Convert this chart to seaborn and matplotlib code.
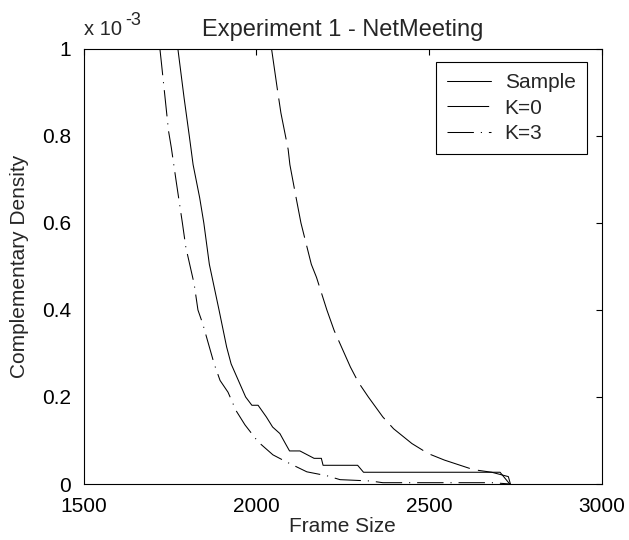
"""
Complementary density of frame sizes (Experiment 1 - NetMeeting):
empirical sample vs. two model fits, drawn in the old MATLAB look.
"""

import matplotlib

matplotlib.use("Agg")
import matplotlib.pyplot as plt
import pandas as pd
import seaborn as sns

# ==============================================================================
# DATA (y values are in units of 1e-3)
# ==============================================================================
sample_x = [1773, 1791, 1806, 1817, 1836, 1848, 1864, 1892, 1914, 1927, 1948,
            1969, 1987, 2005, 2029, 2047, 2068, 2084, 2096, 2126, 2167, 2188,
            2193, 2293, 2310, 2705, 2733]
sample_y = [1.0, 0.887, 0.8, 0.734, 0.658, 0.6, 0.505, 0.4, 0.315, 0.276, 0.238,
            0.2, 0.181, 0.181, 0.154, 0.131, 0.116, 0.093, 0.076, 0.076, 0.059,
            0.059, 0.043, 0.043, 0.027, 0.027, 0.0]

k0_x = [2044, 2061, 2071, 2092, 2097, 2115, 2129, 2159, 2174, 2204, 2225, 2272,
        2295, 2324, 2366, 2397, 2450, 2497, 2544, 2628, 2681, 2729, 2735]
k0_y = [1.0, 0.906, 0.853, 0.769, 0.734, 0.658, 0.6, 0.505, 0.475, 0.4, 0.353,
        0.269, 0.234, 0.2, 0.154, 0.127, 0.093, 0.070, 0.055, 0.033, 0.027,
        0.017, 0.0]

k3_x = [1721, 1726, 1736, 1746, 1754, 1768, 1786, 1796, 1820, 1831, 1845, 1864,
        1878, 1895, 1918, 1941, 1967, 2005, 2048, 2089, 2146, 2204, 2242, 2329,
        2366, 2682, 2735]
k3_y = [1.0, 0.963, 0.887, 0.811, 0.773, 0.696, 0.6, 0.544, 0.46, 0.4, 0.368,
        0.315, 0.276, 0.238, 0.211, 0.169, 0.136, 0.097, 0.067, 0.05, 0.028,
        0.019, 0.010, 0.007, 0.003, 0.003, 0.0]

series_labels = ["Sample", "K=0", "K=3"]
x_ticks = [1500, 2000, 2500, 3000]
y_ticks = [0, 0.2, 0.4, 0.6, 0.8, 1]
y_tick_labels = ["0", "0.2", "0.4", "0.6", "0.8", "1"]

# line styles (dash lengths in points, unscaled)
STYLES = {
    "Sample": "-",
    "K=0": (0, (30, 6)),
    "K=3": (0, (19, 5, 0.8, 5)),
}

sns.set_style("white")
plt.rcParams["font.family"] = ["Liberation Sans", "DejaVu Sans"]
plt.rcParams["lines.scale_dashes"] = False
plt.rcParams["axes.edgecolor"] = "black"
plt.rcParams["axes.linewidth"] = 0.8


def build_frame():
    frames = []
    for label, xs, ys in zip(series_labels, [sample_x, k0_x, k3_x],
                             [sample_y, k0_y, k3_y]):
        frames.append(pd.DataFrame({"Frame Size": xs, "Density": ys,
                                    "Series": label, "order": range(len(xs))}))
    return pd.concat(frames, ignore_index=True)


def main():
    df = build_frame()

    fig = plt.figure(figsize=(6.29, 5.40), dpi=100)
    ax = fig.add_axes([0.1328, 0.1037, 0.8243, 0.8056])

    handles = []
    for label in series_labels:
        sub = df[df["Series"] == label]
        sns.lineplot(data=sub, x="Frame Size", y="Density", sort=False,
                     estimator=None, color="black", linewidth=0.75, ax=ax,
                     label=label)
        line = ax.get_lines()[-1]
        line.set_linestyle(STYLES[label])
        handles.append(line)

    ax.set_xlim(1500, 3000)
    ax.set_ylim(0, 1)
    ax.set_xticks(x_ticks)
    ax.set_yticks(y_ticks)
    ax.set_yticklabels(y_tick_labels)
    ax.tick_params(direction="in", length=4, width=0.8, colors="black",
                   labelsize=15, top=True, right=True, pad=9)
    for side in ["top", "right", "bottom", "left"]:
        ax.spines[side].set_visible(True)
        ax.spines[side].set_color("black")

    ax.set_xlabel("Frame Size", fontsize=15, labelpad=1)
    ax.set_ylabel("Complementary Density", fontsize=15, labelpad=9)
    ax.set_title("Experiment 1 - NetMeeting", fontsize=17, pad=9)

    # MATLAB-style exponent label above the y axis
    ax.text(0.0, 1.032, "x 10", transform=ax.transAxes, fontsize=14.5,
            ha="left", va="baseline")
    ax.text(0.08, 1.054, "-3", transform=ax.transAxes, fontsize=13,
            ha="left", va="baseline")

    leg = ax.legend(handles=handles, labels=series_labels, loc="upper right",
                    bbox_to_anchor=(0.971, 0.970), borderaxespad=0,
                    fontsize=15, handlelength=2.1, handletextpad=0.65,
                    borderpad=0.55, labelspacing=0.3, fancybox=False,
                    framealpha=1, edgecolor="black")
    leg.get_frame().set_linewidth(0.8)

    fig.savefig("out.png", dpi=100)
    plt.close(fig)


if __name__ == "__main__":
    main()
